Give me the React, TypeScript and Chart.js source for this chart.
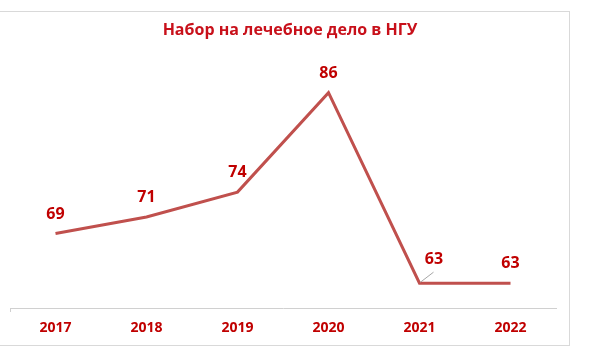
import React, { useEffect, useRef } from "react";
import { Chart, registerables } from "chart.js";

Chart.register(...registerables);

const categories = ["2017", "2018", "2019", "2020", "2021", "2022"];
const admissions = [69, 71, 74, 86, 63, 63];
const chartTitle = "Набор на лечебное дело в НГУ";

const RED_TEXT = "#c00000";
const TITLE_RED = "#c8101a";
const LINE_COLOR = "#c0504d";
const FONT = "'Open Sans', 'DejaVu Sans', sans-serif";

const framePlugin = {
  id: "frame",
  beforeDraw(chart: any) {
    const ctx = chart.ctx;
    ctx.save();
    ctx.fillStyle = "#ffffff";
    ctx.fillRect(0, 0, chart.width, chart.height);
    ctx.strokeStyle = "#d9d9d9";
    ctx.lineWidth = 1;
    ctx.strokeRect(-1.5, 11.5, 571, 334);
    ctx.fillStyle = TITLE_RED;
    ctx.font = `bold 16px ${FONT}`;
    ctx.textAlign = "center";
    ctx.textBaseline = "middle";
    ctx.fillText(chartTitle, 290, 30);
    ctx.restore();
  },
};

const labelsPlugin = {
  id: "pointLabels",
  afterDatasetsDraw(chart: any) {
    const ctx = chart.ctx;
    const meta = chart.getDatasetMeta(0);
    const ds = chart.data.datasets[0];
    ctx.save();
    ctx.font = `bold 16px ${FONT}`;
    ctx.fillStyle = RED_TEXT;
    ctx.textAlign = "center";
    ctx.textBaseline = "middle";
    meta.data.forEach((pt: any, i: number) => {
      let x = pt.x;
      let y = pt.y - 19.5;
      if (i === 4) {
        x = pt.x + 14.5;
        y = pt.y - 24;
        ctx.save();
        ctx.strokeStyle = "#a6a6a6";
        ctx.lineWidth = 1;
        ctx.beginPath();
        ctx.moveTo(pt.x + 1, pt.y - 1);
        ctx.lineTo(pt.x + 14, pt.y - 11);
        ctx.stroke();
        ctx.restore();
      }
      ctx.fillText(String(ds.data[i]), x, y);
    });
    ctx.restore();
  },
};

export default function App() {
  const ref = useRef<HTMLCanvasElement | null>(null);
  useEffect(() => {
    if (!ref.current) return;
    const chart = new Chart(ref.current, {
      type: "line",
      data: {
        labels: categories,
        datasets: [
          {
            data: admissions,
            borderColor: LINE_COLOR,
            borderWidth: 3,
            pointRadius: 0,
            tension: 0,
            fill: false,
          },
        ],
      },
      options: {
        responsive: false,
        animation: false,
        layout: { padding: { left: 10, right: 34, top: 59.6, bottom: 0 } },
        plugins: {
          legend: { display: false },
          title: { display: false },
          tooltip: { enabled: false },
        },
        scales: {
          x: {
            offset: true,
            grid: {
              offset: true,
              drawOnChartArea: false,
              drawTicks: true,
              tickLength: 4,
              color: (c: any) => (c.index === 0 ? "#d0d0d0" : "rgba(0,0,0,0)"),
            },
            border: { display: true, color: "#d0d0d0", width: 1 },
            ticks: {
              color: RED_TEXT,
              font: { family: FONT, size: 14, weight: "bold" },
              padding: 8,
              maxRotation: 0,
            },
            afterFit: (scale: any) => {
              scale.height = 45;
            },
          },
          y: { display: false, min: 60, max: 90 },
        },
      },
      plugins: [framePlugin, labelsPlugin],
    });
    return () => chart.destroy();
  }, []);
  return (
    <div style={{ position: "fixed", left: 0, top: 0, width: 590, height: 353, background: "#fff" }}>
      <canvas ref={ref} width={590} height={353} style={{ display: "block" }} />
    </div>
  );
}
